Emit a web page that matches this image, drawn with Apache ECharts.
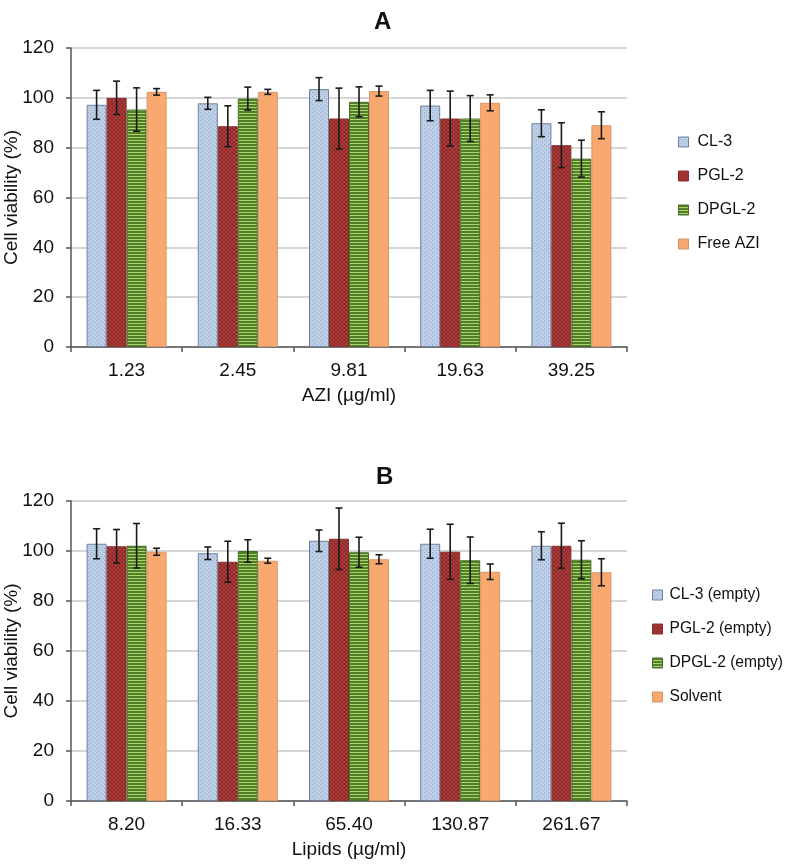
<!DOCTYPE html>
<html>
<head>
<meta charset="utf-8">
<script src="https://cdn.jsdelivr.net/npm/echarts@6/dist/echarts.min.js"></script>
<style>html,body{margin:0;padding:0;background:#fff}#c{width:786px;height:864px}</style>
</head>
<body>
<div id="c"></div>
<script>
// ---- Data ----
const catsA = ['1.23', '2.45', '9.81', '19.63', '39.25'];
const catsB = ['8.20', '16.33', '65.40', '130.87', '261.67'];
const namesA = ['CL-3', 'PGL-2', 'DPGL-2', 'Free AZI'];
const namesB = ['CL-3 (empty)', 'PGL-2 (empty)', 'DPGL-2 (empty)', 'Solvent'];
const yTicks = [0, 20, 40, 60, 80, 100, 120];

const a_cl3 = [97.2, 97.8, 103.5, 96.9, 89.8];
const a_pgl2 = [100, 88.6, 91.7, 91.7, 81];
const a_dpgl2 = [95.3, 99.7, 98.4, 91.7, 75.6];
const a_free = [102.4, 102.4, 102.7, 98, 89];
const a_cl3_err = [5.8, 2.4, 4.6, 6.1, 5.4];
const a_pgl2_err = [6.7, 8.2, 12.2, 11, 9];
const a_dpgl2_err = [8.7, 4.6, 6, 9.2, 7.4];
const a_free_err = [1.3, 1, 2, 3.2, 5.4];

const b_cl3 = [102.9, 99.1, 104.1, 102.9, 102.1];
const b_pgl2 = [101.9, 95.7, 104.9, 99.7, 102.1];
const b_dpgl2 = [102.1, 100, 99.5, 96.3, 96.5];
const b_solv = [99.7, 96.1, 96.7, 91.7, 91.5];
const b_cl3_err = [6, 2.5, 4.3, 5.8, 5.6];
const b_pgl2_err = [6.7, 8.2, 12.3, 11, 9];
const b_dpgl2_err = [8.9, 4.5, 6, 9.3, 7.6];
const b_solv_err = [1.4, 1, 1.8, 3.1, 5.4];

// ---- Patterns ----
function pat(w, h, draw) {
  const c = document.createElement('canvas');
  c.width = w; c.height = h;
  const g = c.getContext('2d');
  draw(g);
  return { image: c, repeat: 'repeat' };
}
const pBlue = pat(4, 4, g => {
  g.fillStyle = '#bccfe6'; g.fillRect(0, 0, 4, 4);
  g.fillStyle = '#93abcb'; g.fillRect(0, 0, 1, 1); g.fillRect(2, 2, 1, 1);
});
const pRed = pat(4, 4, g => {
  g.fillStyle = '#ad3c3a'; g.fillRect(0, 0, 4, 4);
  g.fillStyle = '#8c2a2a';
  for (let i = 0; i < 4; i++) { g.fillRect(i, i, 1, 1); g.fillRect(3 - i, i, 1, 1); }
});
const pGreen = pat(4, 3, g => {
  g.fillStyle = '#507f27'; g.fillRect(0, 0, 4, 3);
  g.fillStyle = '#a9d46e'; g.fillRect(0, 2, 4, 1);
});
const cOrange = '#f9a96f';
const fills = [pBlue, pRed, pGreen, cOrange];
const borders = ['#6f809a', '#8a3030', '#4a6e2a', '#d89466'];

const font = 'Liberation Sans, Arial, sans-serif';
const txt = '#111';

function barSeries(name, data, axis, i) {
  return {
    type: 'bar', name: name, data: data,
    xAxisIndex: axis, yAxisIndex: axis,
    barWidth: 20, barGap: '0%',
    itemStyle: { color: fills[i], borderColor: borders[i], borderWidth: 1 },
    emphasis: { disabled: true }, z: 2
  };
}
function errSeries(vals, errs, axis, i) {
  return {
    type: 'custom', xAxisIndex: axis, yAxisIndex: axis, z: 5, silent: true,
    data: vals.map((v, k) => [k, v, errs[k]]),
    encode: { x: 0, y: 1 },
    renderItem: function (params, api) {
      const k = api.value(0), v = api.value(1), e = api.value(2);
      const top = api.coord([k, v + e]);
      const bot = api.coord([k, v - e]);
      const x = top[0] + (i - 1.5) * 20;
      const st = { stroke: '#1a1a1a', lineWidth: 1.6 };
      return {
        type: 'group', children: [
          { type: 'line', shape: { x1: x, y1: top[1], x2: x, y2: bot[1] }, style: st },
          { type: 'line', shape: { x1: x - 3.5, y1: top[1], x2: x + 3.5, y2: top[1] }, style: st },
          { type: 'line', shape: { x1: x - 3.5, y1: bot[1], x2: x + 3.5, y2: bot[1] }, style: st }
        ]
      };
    }
  };
}

function xAxis(cats, name, idx) {
  return {
    type: 'category', data: cats, gridIndex: idx,
    name: name, nameLocation: 'middle', nameGap: 39, nameMoveOverlap: false,
    nameTextStyle: { fontFamily: font, fontSize: 19, color: txt },
    axisLine: { lineStyle: { color: '#555', width: 1.5 } },
    axisTick: { show: true, length: 5, lineStyle: { color: '#555', width: 1.5 } },
    axisLabel: { fontFamily: font, fontSize: 19, color: txt, margin: 14 }
  };
}
function yAxis(idx) {
  return {
    type: 'value', gridIndex: idx, min: yTicks[0], max: yTicks[yTicks.length - 1], interval: 20,
    name: 'Cell viability (%)', nameLocation: 'middle', nameGap: 50, nameMoveOverlap: false,
    nameTextStyle: { fontFamily: font, fontSize: 19, color: txt },
    axisLine: { show: true, lineStyle: { color: '#555', width: 1.5 } },
    axisTick: { show: true, length: 5, lineStyle: { color: '#555', width: 1.5 } },
    axisLabel: { fontFamily: font, fontSize: 19, color: txt, margin: 17 },
    splitLine: { lineStyle: { color: '#c8c8c8', width: 1.5 } }
  };
}

const series = [];
const aVals = [a_cl3, a_pgl2, a_dpgl2, a_free], aErr = [a_cl3_err, a_pgl2_err, a_dpgl2_err, a_free_err];
const bVals = [b_cl3, b_pgl2, b_dpgl2, b_solv], bErr = [b_cl3_err, b_pgl2_err, b_dpgl2_err, b_solv_err];
for (let i = 0; i < 4; i++) series.push(barSeries(namesA[i], aVals[i], 0, i));
for (let i = 0; i < 4; i++) series.push(barSeries(namesB[i], bVals[i], 1, i));
for (let i = 0; i < 4; i++) series.push(errSeries(aVals[i], aErr[i], 0, i));
for (let i = 0; i < 4; i++) series.push(errSeries(bVals[i], bErr[i], 1, i));

function legend(data, left, top, pad, fs) {
  return {
    data: data, left: left, top: top,
    orient: 'vertical', icon: 'rect', itemWidth: 10, itemHeight: 10, itemGap: 18,
    selectedMode: false, padding: 0,
    textStyle: { fontFamily: font, fontSize: fs, color: txt, padding: [0, 0, 0, pad] },
    itemStyle: { borderWidth: 1 }
  };
}

const chart = echarts.init(document.getElementById('c'), null, { renderer: 'canvas' });
chart.setOption({
  animation: false,
  backgroundColor: '#fff',
  title: [
    { text: 'A', left: 369, top: 5, textStyle: { fontFamily: font, fontSize: 24, fontWeight: 'bold', color: '#111' } },
    { text: 'B', left: 371, top: 460, textStyle: { fontFamily: font, fontSize: 24, fontWeight: 'bold', color: '#111' } }
  ],
  grid: [
    { left: 71, top: 48, width: 556, height: 299, containLabel: false, outerBoundsMode: 'none' },
    { left: 71, top: 501, width: 556, height: 300, containLabel: false, outerBoundsMode: 'none' }
  ],
  legend: [
    legend(namesA, 678, 134, 4, 16),
    legend(namesB, 652, 587, 2, 15.6)
  ],
  xAxis: [xAxis(catsA, 'AZI (µg/ml)', 0), xAxis(catsB, 'Lipids (µg/ml)', 1)],
  yAxis: [yAxis(0), yAxis(1)],
  series: series
});
</script>
</body>
</html>
